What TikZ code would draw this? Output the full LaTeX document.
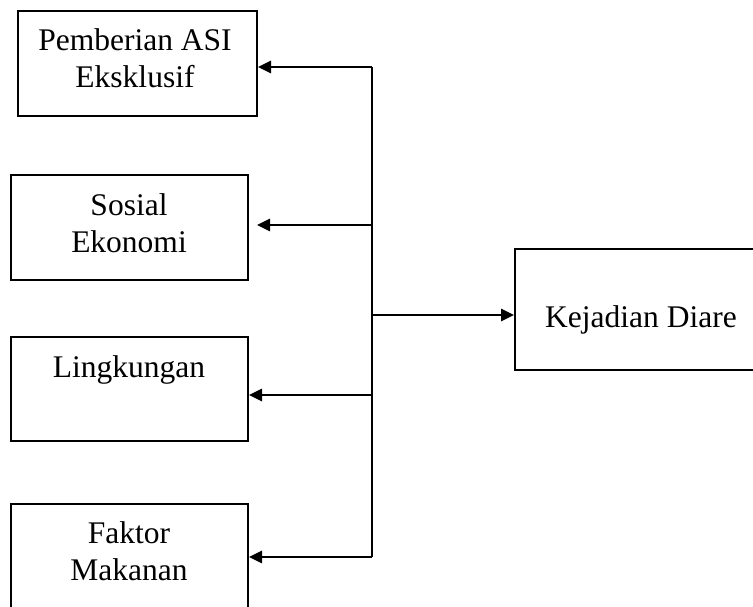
\documentclass[tikz,border=0pt]{standalone}
\usepackage{fontspec}
\setmainfont{Liberation Serif}
\usetikzlibrary{arrows.meta}
\begin{document}
\begin{tikzpicture}[x=1pt,y=-1pt,
  box/.style={draw,line width=2pt,inner sep=0pt},
  lbl/.style={font=\fontsize{31.5}{37}\selectfont,align=center,inner sep=0pt},
  arr/.style={line width=2.6pt,-{Triangle[length=13pt,width=12pt]}},
  trunk/.style={line width=2.2pt}]
\useasboundingbox (0,0) rectangle (753,607);
\clip (0,0) rectangle (753,607);
% boxes
\node[box,minimum width=239pt,minimum height=105pt] (b1) at (137.5,63.5) {};
\node[box,minimum width=237pt,minimum height=105pt] (b2) at (129.5,227.5) {};
\node[box,minimum width=237pt,minimum height=104pt] (b3) at (129.5,389) {};
\node[box,minimum width=237pt,minimum height=116pt] (b4) at (129.5,562) {};
\node[box,minimum width=255pt,minimum height=121pt] (b5) at (642.5,309.5) {};
% labels
\node[lbl,anchor=base] (t1) at (135,88) {Pemberian ASI\\Eksklusif};
\node[lbl,anchor=base] (t2) at (129,252) {Sosial\\Ekonomi};
\node[lbl,anchor=base] (t3) at (129,377) {Lingkungan};
\node[lbl,anchor=base] (t4) at (129,580) {Faktor\\Makanan};
\node[lbl,anchor=base] (t5) at (641,327) {Kejadian Diare};
% trunk
\coordinate (j1) at (372,67);
\coordinate (j2) at (372,225);
\coordinate (j5) at (372,315);
\coordinate (j3) at (372,395);
\coordinate (j4) at (372,557);
\draw[trunk] (j1) -- (j4);
\coordinate (e2) at (257,225);
\draw[arr] (j1) -- (b1.east |- j1);
\draw[arr] (j2) -- (e2);
\draw[arr] (j3) -- (b3.east |- j3);
\draw[arr] (j4) -- (b4.east |- j4);
\draw[arr] (j5) -- (b5.west |- j5);
\end{tikzpicture}
\end{document}
